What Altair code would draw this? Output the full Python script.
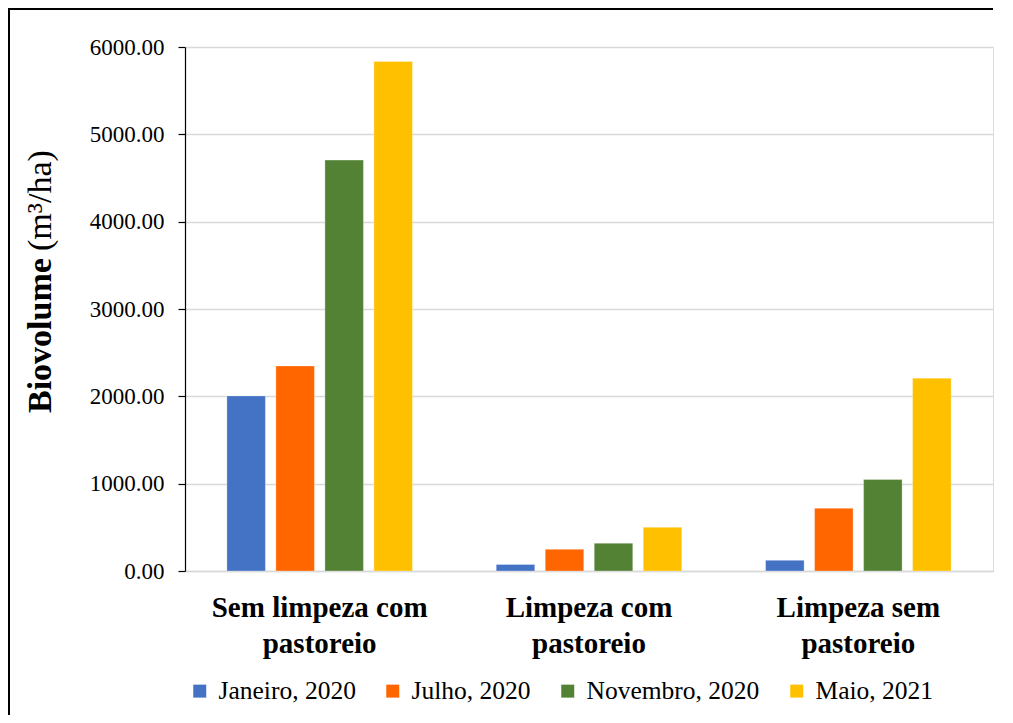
import altair as alt
import pandas as pd

categories = ["Sem limpeza com pastoreio", "Limpeza com pastoreio", "Limpeza sem pastoreio"]
periods = ["Janeiro, 2020", "Julho, 2020", "Novembro, 2020", "Maio, 2021"]
colors = ["#4472C4", "#FF6600", "#548235", "#FFC000"]
janeiro_2020 = [2005, 75, 122]
julho_2020 = [2348, 248, 718]
novembro_2020 = [4705, 318, 1047]
maio_2021 = [5835, 500, 2208]
y_ticks = [0, 1000, 2000, 3000, 4000, 5000, 6000]

series = [janeiro_2020, julho_2020, novembro_2020, maio_2021]
rows = []
for p, vals in zip(periods, series):
    for c, v in zip(categories, vals):
        rows.append({"categoria": c, "periodo": p, "valor": v})
df = pd.DataFrame(rows)

FONT = "Liberation Serif"
W, H = 808, 524
PAD = {"left": 177, "top": 39, "right": 12, "bottom": 144}

bars = alt.Chart(df).mark_bar(stroke="white", strokeWidth=0.6, strokeOpacity=0.5).encode(
    x=alt.X("categoria:N", sort=categories,
            scale=alt.Scale(paddingInner=0, paddingOuter=0),
            axis=alt.Axis(title=None, labelAngle=0, ticks=False,
                          domainColor="#D9D9D9", domainWidth=1.3,
                          labelFont=FONT, labelFontSize=29, labelFontWeight="bold",
                          labelColor="black", labelLineHeight=36, labelPadding=22,
                          labelLimit=1000,
                          labelExpr="[replace(datum.label, ' pastoreio', ''), 'pastoreio']")),
    xOffset=alt.XOffset("periodo:N", sort=periods,
                        scale=alt.Scale(paddingInner=0.214, paddingOuter=0.855)),
    y=alt.Y("valor:Q", scale=alt.Scale(domain=[0, 6000], nice=False),
            axis=alt.Axis(title=None, values=y_ticks, format=".2f",
                          grid=True, gridColor="#D9D9D9", gridWidth=1.3,
                          domainColor="black", domainWidth=1.2,
                          tickColor="black", tickSize=7, tickWidth=1.2,
                          labelFont=FONT, labelFontSize=23, labelColor="black",
                          labelPadding=14)),
    color=alt.Color("periodo:N", sort=periods,
                    scale=alt.Scale(domain=periods, range=colors),
                    legend=alt.Legend(title=None, orient="none", direction="horizontal",
                                      legendX=2, legendY=631,
                                      symbolType="square", symbolSize=169,
                                      symbolStrokeWidth=0, symbolOpacity=1,
                                      labelFont=FONT, labelFontSize=25.5,
                                      labelColor="black", labelOffset=6,
                                      labelLimit=1000,
                                      columnPadding=24, padding=0)),
)

title_bold = alt.Chart(pd.DataFrame({"t": ["Biovolume"]})).mark_text(
    angle=270, align="left", baseline="middle", font=FONT, fontSize=34,
    fontWeight="bold", color="black"
).encode(x=alt.value(-144), y=alt.value(366), text="t:N")

title_unit = alt.Chart(pd.DataFrame({"t": ["(m³/ha)"]})).mark_text(
    angle=270, align="left", baseline="middle", font=FONT, fontSize=34,
    color="black"
).encode(x=alt.value(-144), y=alt.value(204), text="t:N")

frame_left = alt.Chart(pd.DataFrame({"f": [0]})).mark_rule(
    stroke="black", strokeWidth=2
).encode(x=alt.value(-176), y=alt.value(-38), y2=alt.value(H + PAD["bottom"]))

frame_top = alt.Chart(pd.DataFrame({"f": [0]})).mark_rule(
    stroke="black", strokeWidth=2
).encode(x=alt.value(-177), x2=alt.value(W), y=alt.value(-38))

chart = alt.layer(frame_left, frame_top, bars, title_bold, title_unit).properties(
    width=W, height=H,
    autosize=alt.AutoSizeParams(type="none"),
    padding=PAD,
).configure_view(stroke=None).configure(
    background="white", font=FONT
).configure_axis(labelFont=FONT).configure_legend(labelFont=FONT)

chart.save("out.html", embed_options={"renderer": "svg", "actions": False})
